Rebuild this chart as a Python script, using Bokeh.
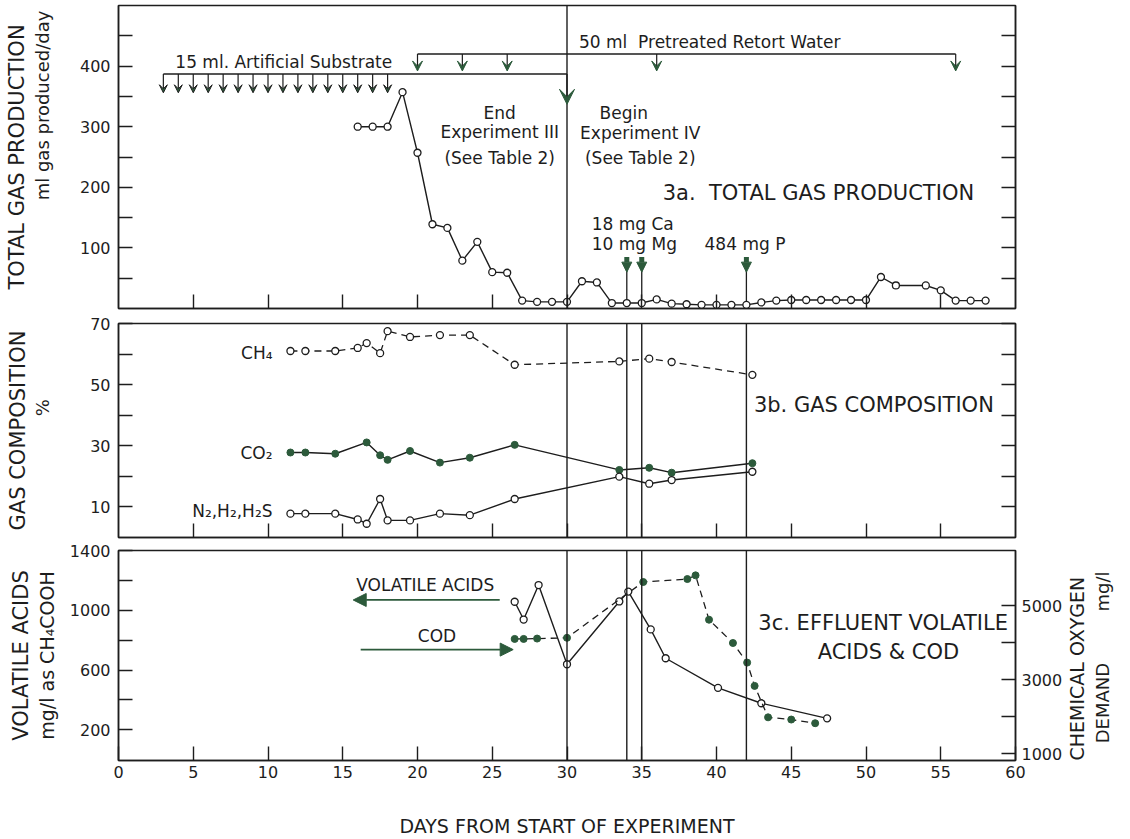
import math
from bokeh.plotting import figure
from bokeh.layouts import column
from bokeh.models import (Range1d, LinearAxis, FixedTicker, Span, Label, Arrow,
                          VeeHead, NormalHead, ColumnDataSource,
                          CustomLabelingPolicy)
from bokeh.embed import file_html
from bokeh.resources import INLINE

FONT = "DejaVu Sans"
INK = "#1d1d1d"
GREEN = "#2c5a3b"
NB = "\u00a0"

# ---------------- data ----------------
x_tick_days = [0, 5, 10, 15, 20, 25, 30, 35, 40, 45, 50, 55, 60]

# 3a total gas production (ml/day)
gas_days = [16, 17, 18, 19, 20, 21, 22, 23, 24, 25, 26, 27, 28, 29, 30,
            31, 32, 33, 34, 35, 36, 37, 38, 39, 40, 41, 42, 43, 44, 45,
            46, 47, 48, 49, 50, 51, 52, 54, 55, 56, 57, 58]
gas_ml = [300, 300, 300, 357, 257, 139, 133, 79, 110, 60, 59, 13, 11, 11, 11,
          45, 43, 9, 9, 9, 15, 8, 7, 6, 6, 6, 6, 10, 13, 14,
          14, 14, 14, 14, 14, 52, 38, 38, 30, 13, 13, 13]

substrate_feed_days = [3, 4, 5, 6, 7, 8, 9, 10, 11, 12, 13, 14, 15, 16, 17, 18]
retort_feed_days = [20, 23, 26, 36, 56]
experiment_change_day = 30
mineral_days = [34, 35, 42]
mineral_gas = [9, 9, 6]

# 3b gas composition (%)
comp_days = [11.5, 12.5, 14.5, 16.0, 16.6, 17.5, 18.0, 19.5, 21.5, 23.5, 26.5,
             33.5, 35.5, 37.0, 42.4]
ch4_pct = [61, 61, 61, 62, 63.6, 60.3, 67.5, 65.6, 66.2, 66.2, 56.5,
           57.6, 58.5, 57.4, 53.2]
co2_days = [11.5, 12.5, 14.5, 16.6, 17.5, 18.0, 19.5, 21.5, 23.5, 26.5,
            33.5, 35.5, 37.0, 42.4]
co2_pct = [27.8, 27.8, 27.4, 31.1, 26.9, 25.4, 28.3, 24.5, 26.1, 30.3,
           22.1, 22.8, 21.2, 24.3]
n2_pct = [7.8, 7.8, 7.8, 5.9, 4.5, 12.6, 5.6, 5.6, 7.8, 7.3, 12.6,
          19.9, 17.6, 18.8, 21.5]
event_days = [30, 34, 35, 42]

# 3c effluent volatile acids (mg/l) and COD (mg/l)
va_days = [26.5, 27.1, 28.1, 30.0, 33.5, 34.1, 35.6, 36.6, 40.1, 43.0, 47.4]
va_mg = [1057, 938, 1169, 639, 1059, 1125, 872, 679, 481, 378, 277]
cod_days = [26.5, 27.1, 28.0, 30.0, 35.1, 38.05, 38.6, 39.5, 41.1, 42.05,
            42.55, 43.45, 45.0, 46.6]
cod_mg = [4100, 4100, 4110, 4130, 5640, 5720, 5820, 4620, 3990, 3460,
          2830, 1980, 1920, 1820]

# ---------------- helpers ----------------
W = 1130
LB, RB = 118, 115
xr = Range1d(0, 60)
NO_LABELS = CustomLabelingPolicy(code="return []")
AXIS_PROPS = LinearAxis.properties()
CAN_CCW = ("axis_label_orientation" in AXIS_PROPS
           and "axis_label_align" in AXIS_PROPS)


def make_fig(h, yr, bt, bb):
    p = figure(width=W, height=h, x_range=xr, y_range=yr, output_backend="svg",
               toolbar_location=None, tools="", min_border_left=LB,
               min_border_right=RB, min_border_top=bt, min_border_bottom=bb)
    p.title.visible = False
    p.xgrid.visible = False
    p.ygrid.visible = False
    p.outline_line_color = INK
    p.outline_line_width = 1.5
    p.outline_line_alpha = 1
    p.background_fill_color = "white"
    p.border_fill_color = "white"
    return p


def style_axis(ax, ticks, minor, show, standoff=8):
    ax.ticker = FixedTicker(ticks=ticks, minor_ticks=minor)
    ax.axis_line_color = INK
    ax.axis_line_width = 1.5
    ax.major_tick_in = 14
    ax.major_tick_out = 0
    ax.minor_tick_in = 14
    ax.minor_tick_out = 0
    ax.major_tick_line_color = INK
    ax.minor_tick_line_color = INK
    ax.major_tick_line_width = 1.4
    ax.minor_tick_line_width = 1.4
    if show:
        ax.major_label_text_font = FONT
        ax.major_label_text_font_size = "16px"
        ax.major_label_text_color = INK
        ax.major_label_standoff = standoff
    else:
        ax.major_label_text_font_size = "1px"
        ax.major_label_standoff = 0
        ax.major_label_policy = NO_LABELS


def title_axis(ax, text, size, standoff, ccw=False):
    ax.axis_label_text_font = FONT
    ax.axis_label_text_font_size = size
    ax.axis_label_text_font_style = "normal"
    ax.axis_label_text_color = INK
    ax.axis_label_standoff = standoff
    if ccw and CAN_CCW:
        # reads bottom-to-top, starting at the bottom of the frame
        ax.axis_label_orientation = math.pi / 2
        ax.axis_label_align = "start"
        ax.axis_label = text
    else:
        ax.axis_label = text.strip(NB) if ccw else text


def outer_axis(p, side, text, size, standoff, ccw=False, y_range_name="default"):
    ax = LinearAxis(y_range_name=y_range_name)
    ax.ticker = FixedTicker(ticks=[])
    ax.axis_line_color = None
    ax.major_tick_line_color = None
    ax.minor_tick_line_color = None
    ax.major_tick_in = 0
    ax.major_tick_out = 0
    ax.minor_tick_in = 0
    ax.minor_tick_out = 0
    ax.major_label_standoff = 0
    ax.major_label_text_font_size = "1px"
    ax.major_label_policy = NO_LABELS
    title_axis(ax, text, size, standoff, ccw)
    p.add_layout(ax, side)


def lab(p, x, y, text, size="17px", align="left", baseline="middle"):
    p.add_layout(Label(x=x, y=y, text=text, text_font=FONT,
                       text_font_size=size, text_color=INK,
                       text_align=align, text_baseline=baseline))


inner_x = x_tick_days[1:-1]

# ---------------- 3a ----------------
top = make_fig(315, Range1d(0, 500), 5, 7)
style_axis(top.xaxis[0], inner_x, [], False)
style_axis(top.yaxis[0], [100, 200, 300, 400], [50, 150, 250, 350, 450], True)
title_axis(top.yaxis[0], NB * 18 + "ml gas produced/day", "18px", 24)
outer_axis(top, "left", "TOTAL GAS PRODUCTION", "21px", 0)
ra = LinearAxis()
style_axis(ra, [100, 200, 300, 400], [50, 150, 250, 350, 450], False)
top.add_layout(ra, "right")

top.add_layout(Span(location=experiment_change_day, dimension="height",
                    line_color=INK, line_width=1.4))

# feeding brackets & arrows
top.segment(x0=[substrate_feed_days[0]], y0=[387], x1=[experiment_change_day],
            y1=[387], line_color=INK, line_width=1.3)
top.add_layout(Arrow(x_start="x", y_start=387, x_end="x", y_end=356,
                     source=ColumnDataSource(dict(x=substrate_feed_days)),
                     line_color=INK, line_width=1.2,
                     end=VeeHead(size=8, fill_color=GREEN, line_color=INK,
                                 line_width=1)))
top.segment(x0=[retort_feed_days[0]], y0=[420], x1=[retort_feed_days[-1]],
            y1=[420], line_color=INK, line_width=1.3)
top.add_layout(Arrow(x_start="x", y_start=420, x_end="x", y_end=392,
                     source=ColumnDataSource(dict(x=retort_feed_days)),
                     line_color=INK, line_width=1.2,
                     end=VeeHead(size=10, fill_color=GREEN, line_color=GREEN,
                                 line_width=1)))
top.add_layout(Arrow(x_start=experiment_change_day, y_start=387,
                     x_end=experiment_change_day, y_end=337,
                     line_color=INK, line_width=1.4,
                     end=VeeHead(size=15, fill_color=GREEN, line_color=GREEN,
                                 line_width=1)))

# mineral additions
top.segment(x0=mineral_days, y0=[62] * 3, x1=mineral_days, y1=mineral_gas,
            line_color=INK, line_width=1.3)
top.add_layout(Arrow(x_start="x", y_start=85, x_end="x", y_end=60,
                     source=ColumnDataSource(dict(x=mineral_days)),
                     line_color=GREEN, line_width=5,
                     end=NormalHead(size=10, fill_color=GREEN, line_color=GREEN,
                                    line_width=1)))

top.line(gas_days, gas_ml, line_color=INK, line_width=1.4)
top.scatter(gas_days, gas_ml, size=7, marker="circle", fill_color="white",
            line_color=INK, line_width=1.3)

lab(top, 3.8, 406, "15 ml. Artificial Substrate")
lab(top, 30.8, 439, "50 ml" + NB * 2 + "Pretreated Retort Water")
lab(top, 25.5, 323, "End", align="center")
lab(top, 25.5, 292, "Experiment III", align="center")
lab(top, 25.5, 249, "(See Table 2)", align="center")
lab(top, 33.8, 323, "Begin", align="center")
lab(top, 34.9, 290, "Experiment IV", align="center")
lab(top, 34.9, 249, "(See Table 2)", align="center")
lab(top, 36.4, 190, "3a." + NB * 2 + "TOTAL GAS PRODUCTION", size="21px")
lab(top, 31.65, 139, "18 mg Ca")
lab(top, 31.65, 107, "10 mg Mg")
lab(top, 39.2, 107, "484 mg P")

# ---------------- 3b ----------------
mid = make_fig(228, Range1d(0, 70), 8, 6)
style_axis(mid.xaxis[0], inner_x, [], False)
style_axis(mid.yaxis[0], [10, 30, 50, 70], [20, 40, 60], True)
title_axis(mid.yaxis[0], NB * 8 + "%", "18px", 34)
outer_axis(mid, "left", "GAS COMPOSITION", "21px", 0)
ra2 = LinearAxis()
style_axis(ra2, [10, 30, 50, 70], [20, 40, 60], False)
mid.add_layout(ra2, "right")
for d in event_days:
    mid.add_layout(Span(location=d, dimension="height", line_color=INK,
                        line_width=1.4))

mid.line(comp_days, ch4_pct, line_color=INK, line_width=1.3, line_dash="7 5")
mid.scatter(comp_days, ch4_pct, size=7, fill_color="white", line_color=INK,
            line_width=1.3)
mid.line(co2_days, co2_pct, line_color=INK, line_width=1.4)
mid.scatter(co2_days, co2_pct, size=7, fill_color=GREEN, line_color=GREEN,
            line_width=1)
mid.line(comp_days, n2_pct, line_color=INK, line_width=1.4)
mid.scatter(comp_days, n2_pct, size=7, fill_color="white", line_color=INK,
            line_width=1.3)

lab(mid, 10.3, 60.5, "CH\u2084", align="right")
lab(mid, 10.3, 27.8, "CO\u2082", align="right")
lab(mid, 10.3, 8.8, "N\u2082,H\u2082,H\u2082S", align="right")
lab(mid, 42.5, 43.2, "3b. GAS COMPOSITION", size="21px")

# ---------------- 3c ----------------
bot = make_fig(296, Range1d(-5, 1400), 7, 77)
bot.extra_y_ranges = {"cod": Range1d(812, 6492)}
style_axis(bot.xaxis[0], x_tick_days, [], True, standoff=5)
title_axis(bot.xaxis[0], "DAYS FROM START OF EXPERIMENT", "19px", 34)
style_axis(bot.yaxis[0], [200, 600, 1000, 1400], [400, 800, 1200], True)
title_axis(bot.yaxis[0], "mg/l as CH\u2084COOH", "19px", 9)
outer_axis(bot, "left", "VOLATILE ACIDS", "21px", 0)
ra3 = LinearAxis(y_range_name="cod")
style_axis(ra3, [1000, 3000, 5000], [2000, 4000], True, standoff=6)
title_axis(ra3, "CHEMICAL OXYGEN", "19px", 12, ccw=True)
bot.add_layout(ra3, "right")
outer_axis(bot, "right", NB * 3 + "DEMAND" + NB * 9 + "mg/l", "18px", 0,
           ccw=True, y_range_name="cod")
for d in event_days:
    bot.add_layout(Span(location=d, dimension="height", line_color=INK,
                        line_width=1.4))

bot.line(va_days, va_mg, line_color=INK, line_width=1.4)
bot.scatter(va_days, va_mg, size=7, fill_color="white", line_color=INK,
            line_width=1.3)
bot.line(cod_days, cod_mg, y_range_name="cod", line_color=INK, line_width=1.3,
         line_dash="7 5")
bot.scatter(cod_days, cod_mg, y_range_name="cod", size=7, fill_color=GREEN,
            line_color=GREEN, line_width=1)

lab(bot, 15.9, 1168, "VOLATILE ACIDS")
bot.add_layout(Arrow(x_start=25.5, y_start=1069, x_end=15.7, y_end=1069,
                     line_color=GREEN, line_width=1.8,
                     end=NormalHead(size=13, fill_color=GREEN, line_color=GREEN,
                                    line_width=1)))
lab(bot, 21.3, 830, "COD", align="center")
bot.add_layout(Arrow(x_start=16.2, y_start=737, x_end=26.4, y_end=737,
                     line_color=GREEN, line_width=1.8,
                     end=NormalHead(size=13, fill_color=GREEN, line_color=GREEN,
                                    line_width=1)))
lab(bot, 42.8, 916, "3c. EFFLUENT VOLATILE", size="21px")
lab(bot, 51.5, 724, "ACIDS & COD", size="21px", align="center")

layout = column(top, mid, bot, spacing=0)
open("out.html", "w").write(file_html(layout, INLINE, title="Figure 3"))
